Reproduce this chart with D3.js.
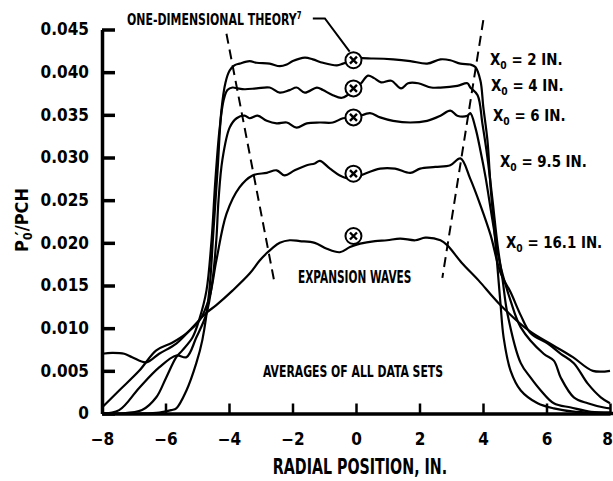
<!DOCTYPE html>
<html>
<head>
<meta charset="utf-8">
<script src="https://cdn.jsdelivr.net/npm/d3@7"></script>
<style>
  body { margin: 0; background: #fff; }
  svg { display: block; }
  text { font-family: "DejaVu Sans Condensed", "DejaVu Sans", sans-serif; font-weight: bold; fill: #000; }
  .axis path, .axis line { stroke: #000; }
  .trace { fill: none; stroke: #000; stroke-width: 2.2; stroke-linejoin: round; }
</style>
</head>
<body>
<div id="chart"></div>
<script>
// stations X0 (in.) and the averaged P0'/PCH traces
const stations = ['2', '4', '6', '9.5', '16.1'];

const radial2 = [-8, -6.83, -6.2, -5.82, -5.66, -5.34, -5.03, -4.84, -4.62, -4.49, -4.36, -4.24, -4.11, -3.98, -3.83, -3.67, -3.35, -3.13, -2.72, -2.4, -2.18, -1.99, -1.61, -1.36, -1.04, -0.6, -0.41, 0, 0.54, 1.17, 1.71, 2.24, 2.66, 2.97, 3.29, 3.6, 3.76, 3.92, 4.01, 4.14, 4.24, 4.36, 4.55, 4.65, 4.87, 5.19, 5.72, 6.23, 6.92, 8];
const ratio2 = [0, 0, 0.0001, 0.0004, 0.0006, 0.0027, 0.0059, 0.0086, 0.0144, 0.0214, 0.0285, 0.0355, 0.0388, 0.0402, 0.0408, 0.041, 0.0413, 0.0411, 0.041, 0.0407, 0.0409, 0.0413, 0.0417, 0.0415, 0.0411, 0.0408, 0.041, 0.0416, 0.0416, 0.0415, 0.0413, 0.041, 0.0415, 0.0414, 0.041, 0.0409, 0.0406, 0.039, 0.0359, 0.032, 0.0265, 0.0214, 0.0129, 0.0089, 0.005, 0.0027, 0.0012, 0.0006, 0.0002, 0.0001];

const radial4 = [-8, -7.46, -6.74, -6.29, -5.98, -5.66, -5.47, -5.15, -4.93, -4.71, -4.55, -4.43, -4.3, -4.17, -4.05, -3.89, -3.73, -3.51, -3.13, -2.72, -2.4, -2.09, -1.87, -1.61, -1.23, -1.04, -0.73, -0.44, 0, 0.16, 0.38, 0.57, 0.79, 1.11, 1.42, 1.64, 1.96, 2.37, 2.66, 3.19, 3.51, 3.6, 3.83, 3.98, 4.14, 4.3, 4.46, 4.62, 4.77, 5.19, 5.5, 5.82, 6.23, 6.77, 7.4, 8];
const ratio4 = [0, 0, 0.0004, 0.0019, 0.0042, 0.0066, 0.0074, 0.0089, 0.0111, 0.0144, 0.0203, 0.0273, 0.0332, 0.0367, 0.0379, 0.0382, 0.0381, 0.038, 0.0381, 0.0382, 0.0376, 0.0379, 0.0382, 0.0376, 0.0382, 0.0379, 0.0373, 0.037, 0.0381, 0.0387, 0.0396, 0.0393, 0.0388, 0.039, 0.0381, 0.0387, 0.0387, 0.0382, 0.0382, 0.0384, 0.0387, 0.0382, 0.0373, 0.034, 0.03, 0.025, 0.0197, 0.0156, 0.0117, 0.0059, 0.0042, 0.0027, 0.0012, 0.0007, 0.0002, 0.0001];

const radial6 = [-8, -7.46, -6.83, -6.2, -5.66, -5.34, -5.03, -4.71, -4.52, -4.4, -4.33, -4.21, -3.98, -3.76, -3.51, -3.35, -3.1, -2.81, -2.5, -2.18, -1.87, -1.55, -1.14, -0.73, -0.41, 0, 0.44, 0.76, 1.17, 1.71, 2.24, 2.66, 2.97, 3.19, 3.51, 3.6, 3.76, 3.92, 4.08, 4.3, 4.55, 4.87, 5.19, 5.91, 6.23, 6.45, 6.86, 7.3, 7.81, 8];
const ratio6 = [0, 0.0004, 0.003, 0.0054, 0.0068, 0.0066, 0.0089, 0.0117, 0.0156, 0.0203, 0.025, 0.0297, 0.0335, 0.0346, 0.0349, 0.0346, 0.0349, 0.0343, 0.034, 0.0341, 0.0335, 0.034, 0.0341, 0.0341, 0.0346, 0.0347, 0.0352, 0.0347, 0.0343, 0.0341, 0.0343, 0.0349, 0.0355, 0.0349, 0.0349, 0.0352, 0.0335, 0.0308, 0.0277, 0.0226, 0.0173, 0.0132, 0.0101, 0.007, 0.0062, 0.0042, 0.0019, 0.0012, 0.0007, 0.0006];

const radial95 = [-8, -7.46, -6.83, -6.29, -5.79, -5.34, -4.93, -4.62, -4.4, -4.08, -3.67, -3.26, -2.81, -2.5, -2.25, -1.93, -1.55, -1.3, -1.14, -0.82, -0.51, -0.19, 0.13, 0.76, 1.23, 1.71, 2.02, 2.5, 2.97, 3.29, 3.6, 3.92, 4.24, 4.55, 4.87, 5.19, 5.5, 6.04, 6.45, 6.86, 7.3, 7.71, 8];
const ratio95 = [0.0007, 0.0027, 0.005, 0.0074, 0.0083, 0.0094, 0.0109, 0.0136, 0.0179, 0.0234, 0.0265, 0.0279, 0.0282, 0.0285, 0.0279, 0.0285, 0.0291, 0.0293, 0.0296, 0.0287, 0.0279, 0.0275, 0.0279, 0.0287, 0.0287, 0.0282, 0.0287, 0.0289, 0.0291, 0.0299, 0.0275, 0.0244, 0.0209, 0.0165, 0.0142, 0.0115, 0.0094, 0.0082, 0.007, 0.0059, 0.0035, 0.0019, 0.0012];

const radial161 = [-8, -7.68, -7.3, -7.05, -6.61, -6.2, -5.66, -5.25, -4.71, -4.4, -3.89, -3.35, -3.04, -2.81, -2.66, -2.4, -2.09, -1.77, -1.3, -0.92, -0.51, -0.19, 0.13, 0.6, 0.98, 1.39, 1.87, 2.18, 2.66, 2.88, 3.32, 3.86, 4.5, 5.45, 6.2, 6.83, 7.46, 8];
const ratio161 = [0.007, 0.0071, 0.007, 0.0066, 0.006, 0.007, 0.0082, 0.0097, 0.0118, 0.0127, 0.0144, 0.0164, 0.0179, 0.0188, 0.0193, 0.02, 0.0203, 0.0202, 0.02, 0.0193, 0.0189, 0.0195, 0.0199, 0.0202, 0.0203, 0.0205, 0.0203, 0.0206, 0.0203, 0.0197, 0.0177, 0.0156, 0.0129, 0.0097, 0.008, 0.0066, 0.005, 0.005];

// circled centreline values
const centreX = [-0.08, -0.08, -0.08, -0.08, -0.08];
const centreY = [0.0414, 0.0381, 0.0347, 0.0281, 0.0208];

// one-dimensional theory boundaries (dashed)
const theoryLeftX = [-4.08, -2.56];
const theoryLeftY = [0.0445, 0.0152];
const theoryRightX = [4.01, 2.72];
const theoryRightY = [0.0461, 0.0159];

const xTicks = [-8, -6, -4, -2, 0, 2, 4, 6, 8];
const yTicks = [0, 0.005, 0.01, 0.015, 0.02, 0.025, 0.03, 0.035, 0.04, 0.045];
const yTickLabels = ['0', '0.005', '0.010', '0.015', '0.020', '0.025', '0.030', '0.035', '0.040', '0.045'];

const traces = [
  [radial2, ratio2],
  [radial4, ratio4],
  [radial6, ratio6],
  [radial95, ratio95],
  [radial161, ratio161]
];

const width = 613, height = 481;
const margin = { top: 29.5, right: 3, bottom: 67.5, left: 102 };
const innerW = width - margin.left - margin.right;
const innerH = height - margin.top - margin.bottom;

const svg = d3.select('#chart').append('svg')
  .attr('width', width)
  .attr('height', height);

const plot = svg.append('g')
  .attr('transform', `translate(${margin.left},${margin.top})`);

const x = d3.scaleLinear().domain([-8, 8]).range([0, innerW]);
const y = d3.scaleLinear().domain([0, 0.045]).range([innerH, 0]);

// axes
const yAxis = d3.axisLeft(y)
  .tickValues(yTicks)
  .tickSizeInner(-13)
  .tickSizeOuter(0)
  .tickPadding(13)
  .tickFormat((d, i) => yTickLabels[i]);

const gy = plot.append('g').attr('class', 'axis').call(yAxis);
gy.select('.domain').attr('stroke-width', 3.5);
gy.selectAll('.tick line').attr('stroke-width', 3.5);
gy.selectAll('.tick text').attr('font-size', 17).attr('font-family', null);

const xAxis = d3.axisBottom(x)
  .tickValues(xTicks)
  .tickSizeInner(-10)
  .tickSizeOuter(0)
  .tickPadding(19)
  .tickFormat(d3.format('d'));

const gx = plot.append('g').attr('class', 'axis')
  .attr('transform', `translate(0,${innerH})`)
  .call(xAxis);
gx.select('.domain').attr('stroke-width', 3.5);
gx.selectAll('.tick line').attr('stroke-width', 2.5);
gx.selectAll('.tick text').attr('font-size', 17).attr('font-family', null);
// last label sits against the sheet edge
gx.selectAll('.tick text').filter(d => d === 8).attr('dx', -3);
// the baseline runs on to the edge of the sheet
gx.append('line')
  .attr('x1', innerW).attr('x2', innerW + margin.right)
  .attr('stroke', '#000').attr('stroke-width', 3.5);

// theory boundaries
const line = d3.line().x(d => x(d[0])).y(d => y(d[1]));
[[theoryLeftX, theoryLeftY], [theoryRightX, theoryRightY]].forEach(([xs, ys]) => {
  plot.append('path')
    .attr('d', line(d3.zip(xs, ys)))
    .attr('fill', 'none')
    .attr('stroke', '#000')
    .attr('stroke-width', 2)
    .attr('stroke-dasharray', '10,6');
});

// traces
const traceLine = d3.line()
  .x(d => x(d[0]))
  .y(d => y(d[1]))
  .curve(d3.curveCatmullRom.alpha(0.5));

plot.selectAll('.trace')
  .data(traces)
  .enter().append('path')
    .attr('class', 'trace')
    .attr('d', ([xs, ys]) => traceLine(d3.zip(xs, ys)));

// circled centreline markers
const marks = plot.selectAll('.centre')
  .data(d3.zip(centreX, centreY))
  .enter().append('g')
    .attr('class', 'centre')
    .attr('transform', d => `translate(${x(d[0])},${y(d[1])})`);
marks.append('circle')
  .attr('r', 8)
  .attr('fill', '#fff')
  .attr('stroke', '#000')
  .attr('stroke-width', 2);
marks.append('path')
  .attr('d', 'M-3.5,-3.5L3.5,3.5M-3.5,3.5L3.5,-3.5')
  .attr('stroke', '#000')
  .attr('stroke-width', 2.4);

// leader from the theory note to the top circle
plot.append('path')
  .attr('d', line([[-1.36, 0.0463], [-0.98, 0.0463], [-0.2, 0.0424]]))
  .attr('fill', 'none')
  .attr('stroke', '#000')
  .attr('stroke-width', 2);

// text helper: condensed lettering through a horizontal scale
function label(px, py, size, sx, parts, anchor) {
  const t = svg.append('text')
    .attr('transform', `translate(${px},${py}) scale(${sx},1)`)
    .attr('font-size', size)
    .attr('text-anchor', anchor || 'start');
  parts.forEach(p => {
    const s = t.append('tspan').text(p.text);
    if (p.dy) s.attr('dy', p.dy);
    if (p.dx) s.attr('dx', p.dx);
    if (p.size) s.attr('font-size', p.size);
  });
  return t;
}

label(127, 25, 16, 0.76, [
  { text: 'ONE-DIMENSIONAL THEORY' },
  { text: '7', dy: -6, size: 10 }
]);

const stationPos = [[490, 65], [491, 91], [493, 121], [500, 167], [506, 248]];
stations.forEach((s, i) => {
  label(stationPos[i][0], stationPos[i][1], 16, 0.93, [
    { text: 'X' },
    { text: '0', dy: 4, size: 11 },
    { text: ` = ${s} IN.`, dy: -4 }
  ]);
});

label(298, 283, 17, 0.69, [{ text: 'EXPANSION WAVES' }]);
label(263, 377, 16, 0.755, [{ text: 'AVERAGES OF ALL DATA SETS' }]);

// axis titles
label(360, 474, 22, 0.72, [{ text: 'RADIAL POSITION, IN.' }], 'middle');

svg.append('text')
  .attr('transform', 'translate(28,220) rotate(-90)')
  .attr('font-size', 18)
  .attr('text-anchor', 'middle')
  .call(t => {
    t.append('tspan').text('P');
    t.append('tspan').text('0').attr('dy', 4).attr('font-size', 12);
    t.append('tspan').text('\u2032').attr('dy', -4).attr('dx', -3);
    t.append('tspan').text('/PCH');
  });
</script>
</body>
</html>
